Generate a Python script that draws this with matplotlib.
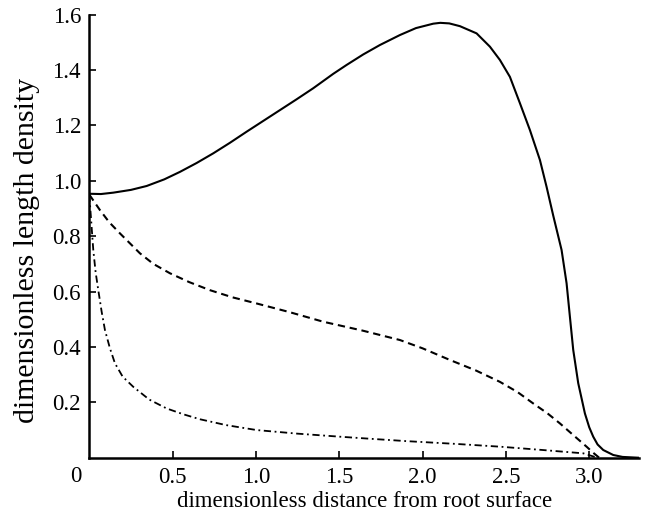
import matplotlib.pyplot as plt

plt.rcParams['font.family'] = ['Liberation Serif', 'DejaVu Serif']

# solid curve
x_solid = [0.0, 0.07, 0.144, 0.25, 0.344, 0.45, 0.544, 0.644, 0.744, 0.844, 0.944,
           1.044, 1.144, 1.244, 1.344, 1.464, 1.544, 1.644, 1.744, 1.864, 1.96,
           2.064, 2.106, 2.16, 2.224, 2.324, 2.404, 2.464, 2.524, 2.584, 2.644,
           2.684, 2.704, 2.744, 2.784, 2.834, 2.864, 2.884, 2.904, 2.934, 2.974,
           3.0, 3.024, 3.05, 3.084, 3.144, 3.2, 3.3]
y_solid = [0.953, 0.952, 0.957, 0.967, 0.981, 1.005, 1.032, 1.064, 1.099, 1.137,
           1.177, 1.216, 1.255, 1.294, 1.334, 1.386, 1.418, 1.456, 1.49, 1.526,
           1.551, 1.567, 1.570, 1.568, 1.558, 1.532, 1.484, 1.436, 1.375, 1.28,
           1.183, 1.111, 1.075, 0.978, 0.874, 0.75, 0.63, 0.509, 0.389, 0.269,
           0.16, 0.11, 0.076, 0.048, 0.028, 0.01, 0.003, 0.0]

# dashed curve
x_dash = [0.0, 0.064, 0.12, 0.184, 0.304, 0.384, 0.484, 0.6, 0.724, 0.86, 1.004,
          1.2, 1.404, 1.64, 1.864, 2.0, 2.164, 2.32, 2.464, 2.57, 2.664, 2.75,
          2.824, 2.9, 2.984, 3.02, 3.06]
y_dash = [0.95, 0.894, 0.85, 0.81, 0.738, 0.70, 0.666, 0.634, 0.605, 0.579, 0.557,
          0.526, 0.491, 0.459, 0.425, 0.395, 0.353, 0.315, 0.274, 0.237, 0.196,
          0.16, 0.124, 0.084, 0.04, 0.02, 0.0]

# dash-dot curve
x_dd = [0.0, 0.012, 0.024, 0.038, 0.054, 0.074, 0.094, 0.124, 0.154, 0.2, 0.264,
        0.36, 0.464, 0.564, 0.664, 0.82, 1.004, 1.25, 1.504, 1.7, 1.904, 2.2,
        2.464, 2.72, 2.964, 3.05]
y_dd = [0.95, 0.85, 0.75, 0.67, 0.605, 0.528, 0.461, 0.395, 0.341, 0.293, 0.256,
        0.21, 0.178, 0.157, 0.139, 0.118, 0.1, 0.087, 0.076, 0.068, 0.06, 0.05,
        0.04, 0.028, 0.016, 0.0]

xticks = [0.5, 1.0, 1.5, 2.0, 2.5, 3.0]
yticks = [0.2, 0.4, 0.6, 0.8, 1.0, 1.2, 1.4, 1.6]

fig = plt.figure(figsize=(6.47, 5.19), dpi=100)
ax = fig.add_axes([0.138, 0.118, 0.85, 0.854])

ax.plot(x_solid, y_solid, color='black', lw=1.5, solid_joinstyle='round')
ax.plot(x_dash, y_dash, color='black', lw=1.5, dashes=(3.5, 2.3))
ax.plot(x_dd, y_dd, color='black', lw=1.3, dashes=(4, 2, 1, 2))

ax.set_xlim(0, 3.3)
ax.set_ylim(0, 1.6)
ax.set_xticks(xticks)
ax.set_xticklabels([f"{t:.1f}" for t in xticks])
ax.set_yticks(yticks)
ax.set_yticklabels([f"{t:.1f}" for t in yticks])
ax.tick_params(direction='in', length=5, width=1.2, labelsize=16.5)
ax.tick_params(axis='x', pad=7)
ax.tick_params(axis='y', pad=6)

for s in ['top', 'right']:
    ax.spines[s].set_visible(False)
for s in ['left', 'bottom']:
    ax.spines[s].set_linewidth(1.8)

ax.text(-0.045, -0.028, "0", fontsize=16.5, ha='right', va='top',
        transform=ax.transData)

ax.set_xlabel("dimensionless distance from root surface", fontsize=16.5, labelpad=2)
ax.set_ylabel("dimensionless length density", fontsize=21.5)
ax.yaxis.set_label_coords(-0.09, 0.467)

fig.savefig("out.png", dpi=100)
